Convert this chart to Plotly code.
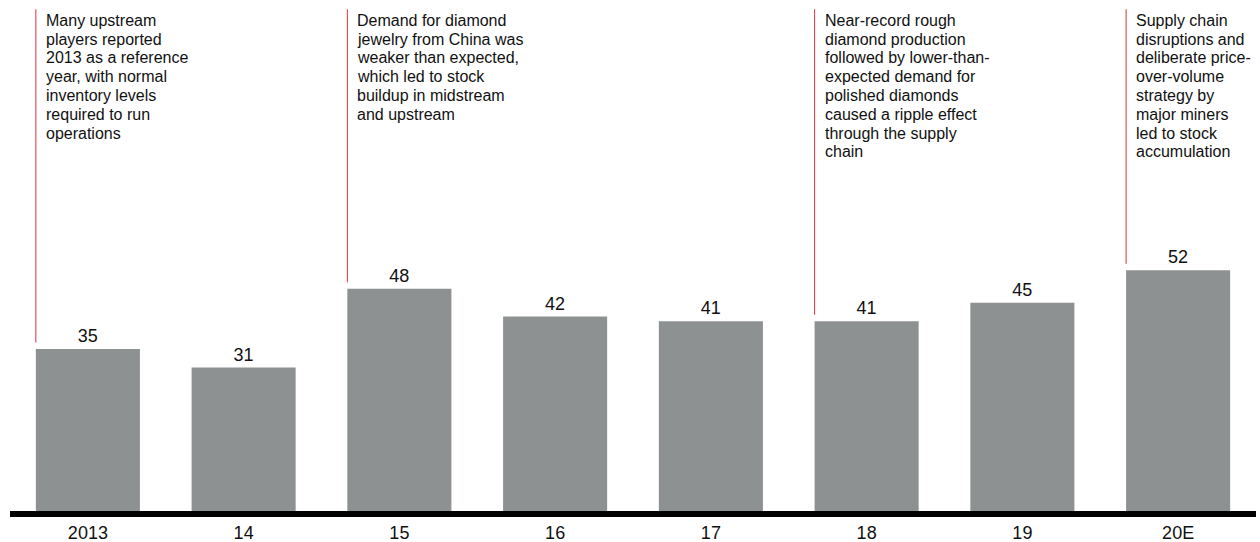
"""Diamond stock index by year, with annotated turning points."""

import plotly.graph_objects as go

YEARS = ["2013", "14", "15", "16", "17", "18", "19", "20E"]
STOCK = [35, 31, 48, 42, 41, 41, 45, 52]

# Callouts: which bar they sit on, and the text broken into the lines used in the source.
NOTE_BARS = ["2013", "15", "18", "20E"]
NOTE_LINES = [
    ["Many upstream", "players reported", "2013 as a reference", "year, with normal",
     "inventory levels", "required to run", "operations"],
    ["Demand for diamond", "jewelry from China was", "weaker than expected,",
     "which led to stock", "buildup in midstream", "and upstream"],
    ["Near-record rough", "diamond production", "followed by lower-than-",
     "expected demand for", "polished diamonds", "caused a ripple effect",
     "through the supply", "chain"],
    ["Supply chain", "disruptions and", "deliberate price-", "over-volume",
     "strategy by", "major miners", "led to stock", "accumulation"],
]

FONT = "Liberation Sans, Arial, Helvetica, sans-serif"
BAR = "#8e9192"
RED = "#e0303a"
Y_MAX = 110.4      # plot top (px 0) in data units
NOTE_TOP = 108.4   # where the red leader lines start
BAR_W = 0.668
LINE_PITCH = 18.8  # px between note lines

fig = go.Figure(
    go.Bar(
        x=list(range(len(YEARS))), y=STOCK, width=BAR_W,
        marker=dict(color=BAR, line=dict(width=0)),
        text=[str(v) for v in STOCK], textposition="outside",
        textfont=dict(size=18, color="#111111", family=FONT),
        cliponaxis=False, hoverinfo="skip",
    )
)

for bar, lines in zip(NOTE_BARS, NOTE_LINES):
    i = YEARS.index(bar)
    left = i - BAR_W / 2
    fig.add_shape(
        type="line", xref="x", yref="y", x0=left, x1=left,
        y0=NOTE_TOP, y1=STOCK[i] + 1.4, line=dict(color=RED, width=1),
    )
    for k, txt in enumerate(lines):
        fig.add_annotation(
            x=left, y=NOTE_TOP, xref="x", yref="y", text=txt, showarrow=False,
            xanchor="left", yanchor="middle", xshift=8,
            yshift=-(11 + k * LINE_PITCH),
            font=dict(size=16, color="#111111", family=FONT),
        )

fig.update_layout(
    width=1260, height=542, margin=dict(l=10, r=4, t=0, b=31),
    plot_bgcolor="white", paper_bgcolor="white", showlegend=False,
    font=dict(family=FONT),
    xaxis=dict(
        tickmode="array", tickvals=list(range(len(YEARS))), ticktext=YEARS,
        range=[-0.5, len(YEARS) - 0.5], showgrid=False, zeroline=False,
        showline=True, linecolor="black", linewidth=6, ticks="",
        ticklabelstandoff=0,
        tickfont=dict(size=18, color="#111111", family=FONT),
    ),
    yaxis=dict(range=[0, Y_MAX], visible=False, showgrid=False, zeroline=False),
)

# the page's default body margin would push the figure off the 1260x542 window
fig.write_html(
    "out.html",
    config={"displayModeBar": False},
    post_script="document.body.style.margin = '0';",
)
